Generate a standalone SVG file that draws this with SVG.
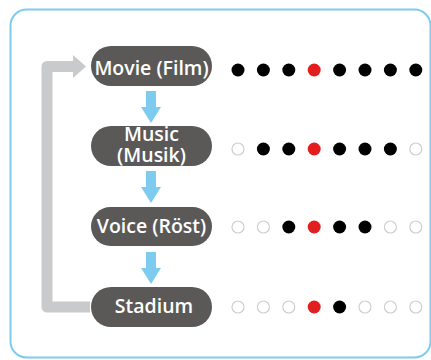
<svg xmlns="http://www.w3.org/2000/svg" width="431" height="360" viewBox="0 0 431 360">
<style>
.node rect{fill:#5b5958}
.node text{fill:#fff;font-family:"Open Sans","Noto Sans",sans-serif;font-size:19.5px;font-weight:600;text-anchor:middle}
.on{fill:#000}
.red{fill:#e31e1e}
.off{fill:#fff;stroke:#cfcfcf;stroke-width:1.2}
.blue{fill:#7dcbef}
</style>
<defs>
<g id="arr"><rect x="146" y="0" width="10" height="17" class="blue"/><polygon points="141,16 161,16 151,32" class="blue"/></g>
</defs>
<rect x="10.5" y="9.5" width="420" height="348" rx="16" fill="#fff" stroke="#7dcbef" stroke-width="2"/>
<g id="connectors">
<polyline points="90,307 47,307 47,66.5 74,66.5" fill="none" stroke="#c9cacb" stroke-width="11" stroke-linejoin="round"/>
<polygon points="73,55 86,66.5 73,78" fill="#c9cacb"/>
<use href="#arr" y="91"/>
<use href="#arr" y="171"/>
<use href="#arr" y="252"/>
</g>
<g id="movie" class="node"><rect x="91" y="46" width="121" height="40" rx="20"/><text x="151.5" y="75">Movie (Film)</text></g>
<g id="music" class="node"><rect x="91" y="126" width="121" height="40" rx="20"/><text x="151.5" y="140.5">Music</text><text x="151.5" y="162">(Musik)</text></g>
<g id="voice" class="node"><rect x="91" y="207" width="121" height="39" rx="19.5"/><text x="151.5" y="233">Voice (Röst)</text></g>
<g id="stadium" class="node"><rect x="91" y="287" width="121" height="40" rx="20"/><text x="154" y="313">Stadium</text></g>
<g id="dots1">
<circle cx="238" cy="70" r="6.5" class="on"/><circle cx="263.4" cy="70" r="6.5" class="on"/><circle cx="288.8" cy="70" r="6.5" class="on"/><circle cx="314.2" cy="70" r="6.5" class="red"/><circle cx="339.6" cy="70" r="6.5" class="on"/><circle cx="365" cy="70" r="6.5" class="on"/><circle cx="390.4" cy="70" r="6.5" class="on"/><circle cx="415.8" cy="70" r="6.5" class="on"/>
</g>
<g id="dots2">
<circle cx="238" cy="149" r="6" class="off"/><circle cx="263.4" cy="149" r="6.5" class="on"/><circle cx="288.8" cy="149" r="6.5" class="on"/><circle cx="314.2" cy="149" r="6.5" class="red"/><circle cx="339.6" cy="149" r="6.5" class="on"/><circle cx="365" cy="149" r="6.5" class="on"/><circle cx="390.4" cy="149" r="6.5" class="on"/><circle cx="415.8" cy="149" r="6" class="off"/>
</g>
<g id="dots3">
<circle cx="238" cy="227" r="6" class="off"/><circle cx="263.4" cy="227" r="6" class="off"/><circle cx="288.8" cy="227" r="6.5" class="on"/><circle cx="314.2" cy="227" r="6.5" class="red"/><circle cx="339.6" cy="227" r="6.5" class="on"/><circle cx="365" cy="227" r="6.5" class="on"/><circle cx="390.4" cy="227" r="6" class="off"/><circle cx="415.8" cy="227" r="6" class="off"/>
</g>
<g id="dots4">
<circle cx="238" cy="307" r="6" class="off"/><circle cx="263.4" cy="307" r="6" class="off"/><circle cx="288.8" cy="307" r="6" class="off"/><circle cx="314.2" cy="307" r="6.5" class="red"/><circle cx="339.6" cy="307" r="6.5" class="on"/><circle cx="365" cy="307" r="6" class="off"/><circle cx="390.4" cy="307" r="6" class="off"/><circle cx="415.8" cy="307" r="6" class="off"/>
</g>
</svg>
